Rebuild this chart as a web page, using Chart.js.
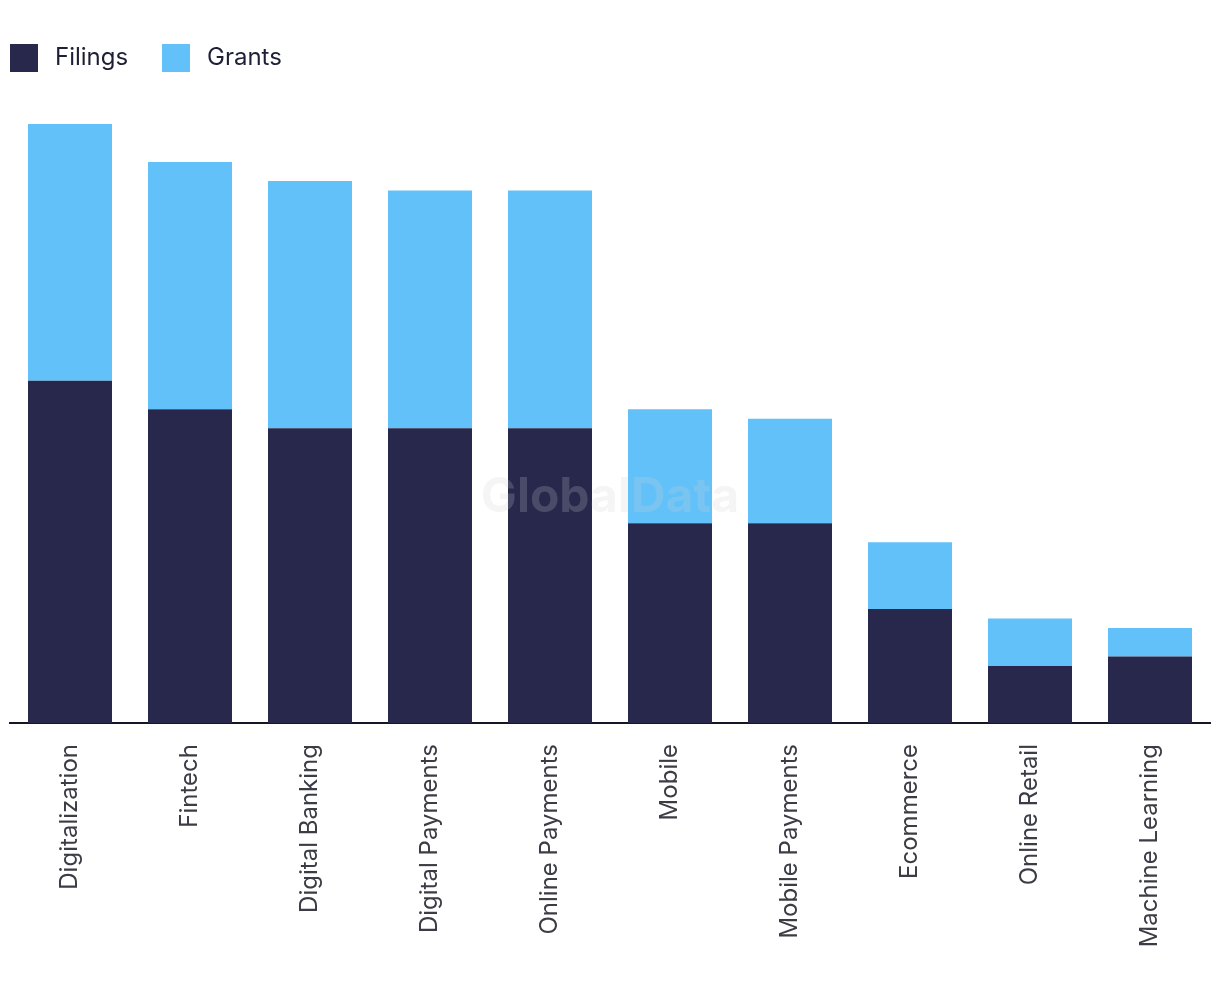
<!DOCTYPE html>
<html>
<head>
<meta charset="utf-8">
<script src="https://cdn.jsdelivr.net/npm/chart.js@4"></script>
<style>
  html, body { margin: 0; padding: 0; background: #fff; }
  #wrap { width: 1220px; height: 998px; }
</style>
</head>
<body>
<div id="wrap"><canvas id="grafico" width="1220" height="998"></canvas></div>
<script>
const categorias = ['Digitalization', 'Fintech', 'Digital Banking', 'Digital Payments', 'Online Payments',
  'Mobile', 'Mobile Payments', 'Ecommerce', 'Online Retail', 'Machine Learning'];
const filings = [36, 33, 31, 31, 31, 21, 21, 12, 6, 7];
const grants = [27, 26, 26, 25, 25, 12, 11, 7, 5, 3];

const colorFilings = '#27284b';
const colorGrants = '#62c1f8';

// leyenda dibujada a mano para poder ubicarla igual que la imagen
const leyenda = {
  id: 'leyenda',
  afterDraw(chart) {
    const c = chart.ctx;
    c.save();
    c.font = '24px Inter, "Liberation Sans", sans-serif';
    c.textBaseline = 'middle';
    const items = [
      { texto: 'Filings', color: colorFilings, x: 10 },
      { texto: 'Grants', color: colorGrants, x: 162 }
    ];
    items.forEach(it => {
      c.fillStyle = it.color;
      c.fillRect(it.x, 44, 28, 28);
      c.fillStyle = '#1e1f36';
      c.fillText(it.texto, it.x + 45, 58);
    });
    c.restore();
  }
};

// marca de agua GlobalData
const marca = {
  id: 'marca',
  afterDatasetsDraw(chart) {
    const c = chart.ctx;
    c.save();
    c.font = 'bold 48px Inter, "Liberation Sans", sans-serif';
    c.fillStyle = 'rgba(207, 207, 212, 0.21)';
    c.textAlign = 'center';
    c.textBaseline = 'middle';
    c.fillText('GlobalData', 610, 498);
    c.restore();
  }
};

const chart = new Chart(document.getElementById('grafico'), {
  type: 'bar',
  data: {
    labels: categorias,
    datasets: [
      { label: 'Filings', data: filings, backgroundColor: colorFilings },
      { label: 'Grants', data: grants, backgroundColor: colorGrants }
    ]
  },
  options: {
    responsive: false,
    animation: false,
    events: [],
    datasets: { bar: { categoryPercentage: 1, barPercentage: 0.7 } },
    layout: { padding: { top: 124, left: 10, right: 10, bottom: 0 } },
    plugins: {
      legend: { display: false },
      tooltip: { enabled: false }
    },
    scales: {
      x: {
        stacked: true,
        grid: { display: false, drawTicks: false },
        border: { display: true, color: '#14152a', width: 2 },
        ticks: {
          minRotation: 90,
          maxRotation: 90,
          padding: 21,
          color: '#3c3c46',
          font: { family: 'Inter, "Liberation Sans", sans-serif', size: 24 }
        },
        afterFit(scale) { scale.height = 998 - 723; }
      },
      y: {
        stacked: true,
        display: false,
        min: 0,
        max: 63
      }
    }
  },
  plugins: [leyenda, marca]
});
</script>
</body>
</html>
